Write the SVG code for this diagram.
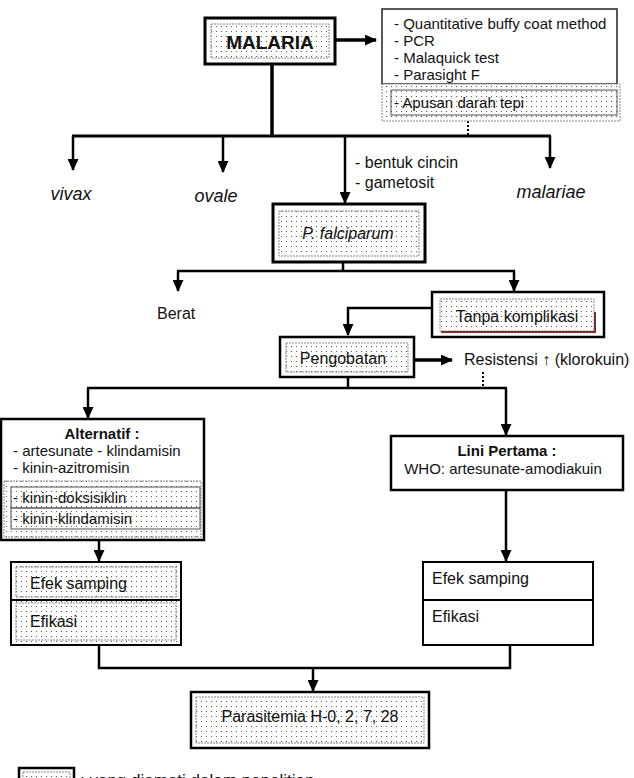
<svg xmlns="http://www.w3.org/2000/svg" width="634" height="778" viewBox="0 0 634 778">
<defs>
<pattern id="dots" width="5" height="5" patternUnits="userSpaceOnUse">
<rect width="5" height="5" fill="#fdfdfb"/>
<circle cx="1.5" cy="1.5" r="0.6" fill="#444"/>
</pattern>
<marker id="ah" markerWidth="12" markerHeight="11" refX="11" refY="5.5" orient="auto" markerUnits="userSpaceOnUse">
<path d="M0,0 L12,5.5 L0,11 z" fill="#000"/>
</marker>
</defs>
<style>
text{font-family:"Liberation Sans",Arial,sans-serif;fill:#111}
.t15{font-size:15px}
.t16{font-size:16px}
.it{font-style:italic;font-size:18px}
.b{font-weight:bold}
.mid{text-anchor:middle}
.box{fill:#fff;stroke:#000;stroke-width:2.5}
.thick{fill:#fff;stroke:#000;stroke-width:3}
.dot{fill:url(#dots);stroke:#888;stroke-width:1;stroke-dasharray:2,1}
.line{fill:none;stroke:#000;stroke-width:2.5}
.dash{fill:none;stroke:#000;stroke-width:2;stroke-dasharray:2,2}
</style>

<g id="connectors">
<line class="line" x1="336" y1="40" x2="376" y2="40" style="stroke-width:3.5" marker-end="url(#ah)"/>
<line class="dash" x1="468" y1="121" x2="468" y2="136"/>
<line class="line" x1="272" y1="64" x2="272" y2="136" style="stroke-width:3.5"/>
<line class="line" x1="72" y1="136" x2="551" y2="136" style="stroke-width:3"/>
<line class="line" x1="73" y1="136" x2="73" y2="170" marker-end="url(#ah)"/>
<line class="line" x1="223" y1="136" x2="223" y2="172" marker-end="url(#ah)"/>
<line class="line" x1="345" y1="136" x2="345" y2="203" marker-end="url(#ah)"/>
<line class="line" x1="550" y1="136" x2="550" y2="168" marker-end="url(#ah)"/>
<line class="line" x1="343" y1="262" x2="343" y2="271"/>
<line class="line" x1="177" y1="271" x2="515" y2="271"/>
<line class="line" x1="178" y1="271" x2="178" y2="291" marker-end="url(#ah)"/>
<line class="line" x1="514" y1="271" x2="514" y2="291" marker-end="url(#ah)"/>
<path class="line" d="M432,308 H348 V335" marker-end="url(#ah)"/>
<line class="line" x1="414" y1="360" x2="452" y2="360" style="stroke-width:3.5" marker-end="url(#ah)"/>
<line class="dash" x1="483" y1="372" x2="483" y2="388"/>
<line class="line" x1="348" y1="377" x2="348" y2="388"/>
<line class="line" x1="87" y1="388" x2="507" y2="388"/>
<line class="line" x1="88" y1="388" x2="88" y2="418" marker-end="url(#ah)"/>
<line class="line" x1="506" y1="388" x2="506" y2="435" marker-end="url(#ah)"/>
<line class="line" x1="99" y1="540" x2="99" y2="561" marker-end="url(#ah)"/>
<line class="line" x1="506" y1="490" x2="506" y2="561" marker-end="url(#ah)"/>
<path class="line" d="M99,645 V668 H510 V645"/>
<line class="line" x1="313" y1="668" x2="313" y2="691" marker-end="url(#ah)"/>
</g>

<g id="malaria">
<rect class="thick" x="205" y="18" width="130" height="46"/>
<rect class="dot" x="211" y="24" width="118" height="34"/>
<text class="b mid" x="270" y="49" style="font-size:19px">MALARIA</text>
</g>

<g id="methods">
<rect x="382" y="9" width="235" height="75" fill="#fff" stroke="#222" stroke-width="1.5"/>
<rect class="dot" x="382" y="84" width="238" height="37"/>
<rect x="391" y="90" width="226" height="25" fill="none" stroke="#555" stroke-width="1"/>
<text class="t15" x="394" y="29">- Quantitative buffy coat method</text>
<text class="t15" x="394" y="46">- PCR</text>
<text class="t15" x="394" y="63">- Malaquick test</text>
<text class="t15" x="394" y="80">- Parasight F</text>
<text class="t15" x="394" y="108">- Apusan darah tepi</text>
</g>

<g id="vivax"><text class="it mid" x="71" y="200">vivax</text></g>
<g id="ovale"><text class="it mid" x="216" y="202">ovale</text></g>
<g id="malariae"><text class="it mid" x="551" y="198">malariae</text></g>
<g id="bentuk">
<text class="t16" x="355" y="168">- bentuk cincin</text>
<text class="t16" x="355" y="188">- gametosit</text>
</g>

<g id="falciparum">
<rect class="thick" x="273" y="204" width="152" height="58"/>
<rect class="dot" x="279" y="211" width="140" height="45"/>
<text class="mid" x="348" y="239" style="font-size:16px;font-style:italic">P. falciparum</text>
</g>

<g id="berat"><text class="t16" x="157" y="319">Berat</text></g>

<g id="tanpa">
<rect class="box" x="432" y="292" width="172" height="45"/>
<rect class="dot" x="440" y="299" width="154" height="32"/>
<path d="M441,332 H595 V312" fill="none" stroke="#7a3030" stroke-width="2"/>
<text class="t16 mid" x="517" y="322">Tanpa komplikasi</text>
</g>

<g id="pengobatan">
<rect class="box" x="280" y="337" width="134" height="40"/>
<rect class="dot" x="286" y="343" width="122" height="29"/>
<text class="t16 mid" x="343" y="364">Pengobatan</text>
</g>

<g id="resistensi"><text class="t16" x="464" y="365">Resistensi ↑ (klorokuin)</text></g>

<g id="alternatif">
<rect class="box" x="1" y="419" width="203" height="121"/>
<rect class="dot" x="4" y="481" width="197" height="56"/>
<rect x="11" y="487" width="189" height="21" fill="none" stroke="#555" stroke-width="1"/>
<rect x="11" y="508" width="189" height="21" fill="none" stroke="#555" stroke-width="1"/>
<text class="t15 b mid" x="102" y="439">Alternatif :</text>
<text class="t15" x="13" y="456">- artesunate - klindamisin</text>
<text class="t15" x="13" y="473">- kinin-azitromisin</text>
<text class="t15" x="13" y="503">- kinin-doksisiklin</text>
<text class="t15" x="13" y="524">- kinin-klindamisin</text>
</g>

<g id="lini">
<rect class="box" x="391" y="436" width="232" height="54"/>
<text class="t15 b mid" x="507" y="456">Lini Pertama :</text>
<text class="t15 mid" x="503" y="474">WHO: artesunate-amodiakuin</text>
</g>

<g id="efek-left">
<rect x="11" y="562" width="170" height="83" fill="url(#dots)" stroke="#000" stroke-width="2"/>
<rect class="dot" x="16" y="567" width="160" height="30" style="fill:none"/>
<rect class="dot" x="16" y="603" width="160" height="37" style="fill:none"/>
<line x1="11" y1="600" x2="181" y2="600" stroke="#000" stroke-width="2"/>
<text class="t16" x="30" y="589">Efek samping</text>
<text class="t16" x="30" y="627">Efikasi</text>
</g>

<g id="efek-right">
<rect x="423" y="562" width="170" height="83" fill="#fff" stroke="#000" stroke-width="2"/>
<line x1="423" y1="600" x2="593" y2="600" stroke="#000" stroke-width="2"/>
<text class="t16" x="432" y="584">Efek samping</text>
<text class="t16" x="432" y="622">Efikasi</text>
</g>

<g id="parasitemia">
<rect class="box" x="191" y="692" width="238" height="56"/>
<rect class="dot" x="196" y="697" width="228" height="46"/>
<text class="t16 mid" x="310" y="722">Parasitemia H-0, 2, 7, 28</text>
</g>

<g id="legend">
<rect class="box" x="19" y="768" width="55" height="22"/>
<rect class="dot" x="23" y="772" width="47" height="14"/>
<text x="80" y="786" style="font-size:17px">: yang diamati dalam penelitian</text>
</g>
</svg>
